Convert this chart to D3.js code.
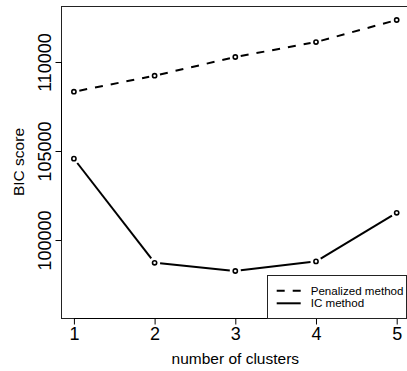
<!DOCTYPE html>
<html>
<head>
<meta charset="utf-8">
<script src="https://cdn.jsdelivr.net/npm/d3@7"></script>
<style>
  html, body { margin: 0; padding: 0; background: #fff; }
  svg { display: block; font-family: "Liberation Sans", Arial, sans-serif; }
</style>
</head>
<body>
<svg id="chart" width="407" height="371"></svg>
<script>
// BIC score by number of clusters for the two selection methods
const clusters = [1, 2, 3, 4, 5];
const penalizedBIC = [108330, 109230, 110280, 111120, 112360];
const icBIC = [104570, 98720, 98260, 98800, 101530];
const yTicks = [100000, 105000, 110000];
const legendLabels = ["Penalized method", "IC method"];

const svg = d3.select("#chart");
const W = 407, H = 371;

const margin = { left: 61, top: 6, bottom: 53 };
const x = d3.scaleLinear().domain([0.84, 5.16]).range([margin.left, 409.6]);
const y = d3.scaleLinear().domain([95620, 113145]).range([H - margin.bottom, margin.top]);

const x0 = x.range()[0], x1 = x.range()[1];
const yb = y.range()[0], yt = y.range()[1];

// plot frame
svg.append("rect")
  .attr("x", x0 + 0.5).attr("y", yt + 0.5)
  .attr("width", x1 - x0).attr("height", yb - yt)
  .attr("fill", "none").attr("stroke", "#222").attr("stroke-width", 1);

// x axis
const xAxis = d3.axisBottom(x).tickValues(clusters).tickFormat(d3.format("d"))
  .tickSize(6).tickPadding(3);
const gx = svg.append("g").attr("transform", `translate(0,${yb + 0.5})`).call(xAxis);
gx.select(".domain").attr("d", `M${x(1)},0H${x(5)}`).attr("stroke", "#000");
gx.selectAll(".tick line").attr("stroke", "#000");
gx.selectAll(".tick text").attr("font-size", "18px").attr("fill", "#000")
  .attr("font-family", "Liberation Sans, Arial, sans-serif");

// y axis with rotated labels
const yAxis = d3.axisLeft(y).tickValues(yTicks).tickFormat(d3.format("d")).tickSize(6);
const gy = svg.append("g").attr("transform", `translate(${x0 + 0.5},0)`).call(yAxis);
gy.select(".domain").attr("d", `M0,${y(100000)}V${y(110000)}`).attr("stroke", "#000");
gy.selectAll(".tick line").attr("stroke", "#000");
gy.selectAll(".tick text")
  .attr("x", null).attr("dy", null)
  .attr("transform", "translate(-11,0) rotate(-90)")
  .attr("text-anchor", "middle")
  .attr("font-size", "18px").attr("fill", "#000")
  .attr("font-family", "Liberation Sans, Arial, sans-serif");

// axis titles
svg.append("text")
  .attr("x", (x0 + x1) / 2).attr("y", 364)
  .attr("text-anchor", "middle").attr("font-size", "15.5px")
  .text("number of clusters");
svg.append("text")
  .attr("transform", `translate(23.5,${(yt + yb) / 2}) rotate(-90)`)
  .attr("text-anchor", "middle").attr("font-size", "15.5px")
  .text("BIC score");

// lines drawn as separate segments with a gap around each point
const gap = 5.5;
function drawSeries(values, dash) {
  const pts = clusters.map((c, i) => [x(c), y(values[i])]);
  const segs = [];
  for (let i = 0; i < pts.length - 1; i++) {
    const [ax, ay] = pts[i], [bx, by] = pts[i + 1];
    const len = Math.hypot(bx - ax, by - ay);
    const ux = (bx - ax) / len, uy = (by - ay) / len;
    segs.push([[ax + ux * gap, ay + uy * gap], [bx - ux * gap, by - uy * gap]]);
  }
  const line = d3.line();
  svg.append("g").selectAll("path").data(segs).join("path")
    .attr("d", d => line(d))
    .attr("fill", "none").attr("stroke", "#000").attr("stroke-width", 2)
    .attr("stroke-dasharray", dash);
  svg.append("g").selectAll("circle").data(pts).join("circle")
    .attr("cx", d => d[0]).attr("cy", d => d[1]).attr("r", 2.1)
    .attr("fill", "none").attr("stroke", "#000").attr("stroke-width", 1.6);
}
drawSeries(penalizedBIC, "8,8");
drawSeries(icBIC, null);

// legend in the bottom-right corner
const lg = svg.append("g");
const lx0 = 267.5, ly0 = 275.5, lx1 = 406.5;
lg.append("rect")
  .attr("x", lx0).attr("y", ly0).attr("width", lx1 - lx0).attr("height", yb - ly0 + 0.5)
  .attr("fill", "#fff").attr("stroke", "#222").attr("stroke-width", 1);
const dashes = ["8,8", null];
legendLabels.forEach((lab, i) => {
  const cy = 290.7 + i * 12.6;
  lg.append("line")
    .attr("x1", 276.7).attr("x2", 300.7).attr("y1", cy).attr("y2", cy)
    .attr("stroke", "#000").attr("stroke-width", 2).attr("stroke-dasharray", dashes[i]);
  lg.append("text")
    .attr("x", 310.7).attr("y", cy).attr("dy", "0.35em")
    .attr("font-size", "11.6px").text(lab);
});
</script>
</body>
</html>
